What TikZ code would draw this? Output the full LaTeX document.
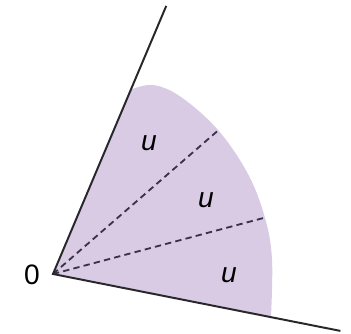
\documentclass[tikz,border=0pt]{standalone}
\usepackage{fontspec}
\setsansfont{Liberation Sans}
\usetikzlibrary{calc}
\definecolor{sectorfill}{RGB}{217,203,228}
\definecolor{raycol}{RGB}{40,40,44}
\definecolor{dashcol}{RGB}{58,50,74}

\begin{document}
\begin{tikzpicture}[x=0.025cm, y=0.025cm,
    font=\sffamily\fontsize{20}{24}\selectfont,
    ray/.style={line width=1.4pt, raycol},
    split/.style={line width=1.3pt, dashcol, dash pattern=on 4.5pt off 3pt}]
    \useasboundingbox (-53,-60) rectangle (298,274);
    \coordinate (O) at (0,0);
    \coordinate (A) at (67.1:291);
    \coordinate (B) at (-11.2:293);
    \coordinate (D1) at (14.9:218);
    \coordinate (D2) at (41.0:219);

    % sektorius
    \fill[sectorfill] (O) -- plot[smooth, tension=0.6] coordinates
        {(77,184) (100,189) (128,177) (165,144) (195,100) (212,56) (219,15) (218,-43)} -- cycle;

    % trys lygios dalys
    \draw[split] (O) -- (D1);
    \draw[split] (O) -- (D2);

    % spinduliai
    \draw[ray] (A) -- (O) -- (B);

    \node (u1) at (96,131) {\textit{u}};
    \node (u2) at (153,74) {\textit{u}};
    \node (u3) at (176,-1) {\textit{u}};
    \node (zero) at (-21,-1) {0};
\end{tikzpicture}
\end{document}
